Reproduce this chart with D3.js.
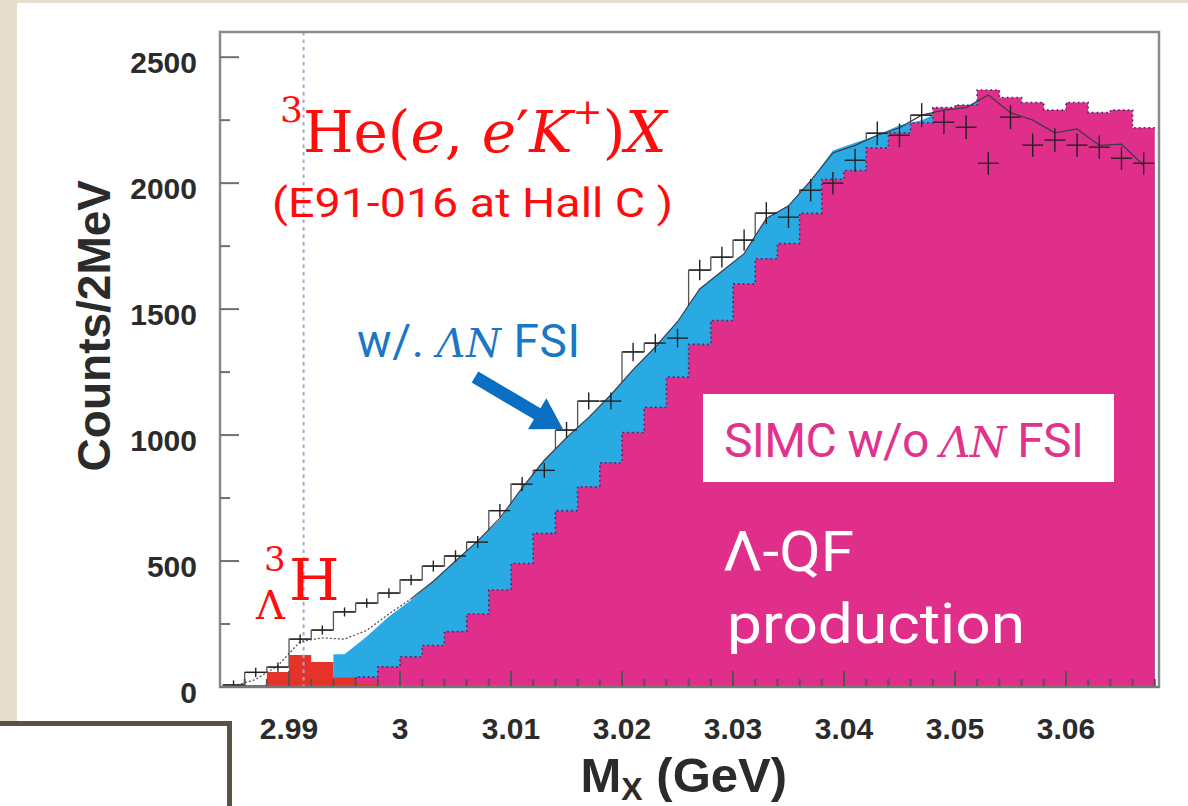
<!DOCTYPE html>
<html><head><meta charset="utf-8">
<script src="https://cdn.jsdelivr.net/npm/d3@7/dist/d3.min.js"></script>
<style>
html,body{margin:0;padding:0;background:#e3dac8;}
svg{display:block;}
</style>
</head><body>
<svg id="chart" width="1188" height="806"></svg>
<script>
// ---------------- DATA (Counts per 2 MeV bin, bin centres in GeV) ----------------
const binCenters = [2.985,2.987,2.989,2.991,2.993,2.995,2.997,2.999,3.001,3.003,3.005,3.007,3.009,3.011,3.013,3.015,3.017,3.019,3.021,3.023,3.025,3.027,3.029,3.031,3.033,3.035,3.037,3.039,3.041,3.043,3.045,3.047,3.049,3.051,3.053,3.055,3.057,3.059,3.061,3.063,3.065,3.067];
// experimental data (crosses + open histogram)
const dataCounts = [8,58,79,190,226,298,333,373,425,480,520,575,700,805,860,1020,1135,1135,1330,1365,1385,1655,1706,1774,1881,1865,1972,2000,2091,2198,2190,2270,2242,2222,2079,2262,2151,2171,2151,2143,2099,2079];
// SIMC Lambda quasi-free w/o Lambda-N FSI (magenta)
const qfNoFsi = [0,0,0,3,6,12,40,80,120,165,220,290,385,490,610,700,795,890,1010,1110,1230,1360,1455,1600,1700,1760,1880,2015,2050,2140,2200,2240,2300,2310,2370,2340,2320,2290,2320,2280,2290,2220];
// SIMC Lambda quasi-free with Lambda-N FSI (cyan)
const qfWithFsi = [0,0,0,0,0,130,200,280,345,420,500,580,665,790,900,990,1070,1160,1260,1350,1450,1580,1650,1720,1860,1910,2010,2130,2160,2190,2230,2250,2290,2300,2350,2280,2250,2200,2215,2150,2155,2070];
// hypertriton peak (red)
const hypertriton = [0,8,60,127,99,38,12,4,0,0,0,0,0,0,0,0,0,0,0,0,0,0,0,0,0,0,0,0,0,0,0,0,0,0,0,0,0,0,0,0,0,0];
// total simulation curve (hypertriton + QF with FSI)
const simTotal = [3,30,85,180,195,190,225,290,350,420,500,580,670,790,900,990,1070,1160,1260,1350,1450,1580,1650,1720,1860,1910,2010,2120,2150,2190,2220,2270,2290,2300,2350,2280,2250,2200,2215,2150,2155,2070];
const xMajorTicks = [2.99,3.00,3.01,3.02,3.03,3.04,3.05,3.06];
const xTickLabels = ["2.99","3","3.01","3.02","3.03","3.04","3.05","3.06"];
const yMajorTicks = [0,500,1000,1500,2000,2500];
const hypertritonMass = 2.99131;
const binWidth = 0.002;

// ---------------- LAYOUT ----------------
const svg = d3.select("#chart");
const W = 1188, H = 806;
const plot = {left:220, right:1159, top:32, bottom:687};
const x = d3.scaleLinear().domain([2.98378, 3.06838]).range([plot.left, plot.right]);
const y = d3.scaleLinear().domain([0, 2600]).range([plot.bottom, plot.top]);

const defs = svg.append("defs");
// paper texture for the slide background
const tex = defs.append("filter").attr("id","paper").attr("x",0).attr("y",0).attr("width","100%").attr("height","100%");
tex.append("feTurbulence").attr("type","fractalNoise").attr("baseFrequency",0.55).attr("numOctaves",2).attr("seed",3).attr("result","n");
tex.append("feColorMatrix").attr("in","n").attr("type","matrix")
  .attr("values","0 0 0 0 0.78  0 0 0 0 0.74  0 0 0 0 0.66  0 0 0 -1.6 1.05");
svg.append("rect").attr("width",W).attr("height",H).attr("fill","#e6ddcc");
svg.append("rect").attr("width",W).attr("height",H).attr("filter","url(#paper)").attr("opacity",0.55);
svg.append("rect").attr("x",17).attr("y",3).attr("width",W-17).attr("height",H-3).attr("fill","#ffffff");

defs.append("clipPath").attr("id","plotclip").append("rect")
  .attr("x",plot.left).attr("y",plot.top).attr("width",plot.right-plot.left).attr("height",plot.bottom-plot.top);

const g = svg.append("g").attr("clip-path","url(#plotclip)");

function stepPoints(vals){
  const pts = [];
  binCenters.forEach((c,i)=>{
    pts.push([c-binWidth/2, vals[i]]);
    pts.push([c+binWidth/2, vals[i]]);
  });
  return pts;
}
const stepArea = d3.area().x(d=>x(d[0])).y0(y(0)).y1(d=>y(d[1]));
const stepLine = d3.line().x(d=>x(d[0])).y(d=>y(d[1]));

// open histogram of the data
g.append("path").attr("d", stepLine(stepPoints(dataCounts)))
  .attr("fill","none").attr("stroke","#555").attr("stroke-width",1.3);

// cyan: QF with FSI (smooth through bin centres)
const fsiStart = binCenters.findIndex((c,i)=>qfWithFsi[i]>0);
const fsiPts = [[binCenters[fsiStart]-binWidth/2, qfWithFsi[fsiStart]]]
  .concat(binCenters.slice(fsiStart).map((c,i)=>[c, qfWithFsi[fsiStart+i]]))
  .concat([[binCenters[binCenters.length-1]+binWidth/2, qfWithFsi[qfWithFsi.length-1]]]);
g.append("path").attr("d", stepArea(fsiPts)).attr("fill","#2aaae2");
// magenta: QF w/o FSI
g.append("path").attr("d", stepArea(stepPoints(qfNoFsi))).attr("fill","#e02f8b");
// red: hypertriton
g.append("path").attr("d", stepArea(stepPoints(hypertriton))).attr("fill","#e5332a");

// dotted outline of magenta histogram
g.append("path").attr("d", stepLine(stepPoints(qfNoFsi).filter(d=>d[0]>2.995)))
  .attr("fill","none").attr("stroke","#3d2a66").attr("stroke-width",1.6).attr("stroke-dasharray","1.6,3.2");

// hypertriton mass line
g.append("line").attr("x1",x(hypertritonMass)).attr("x2",x(hypertritonMass))
  .attr("y1",plot.top).attr("y2",plot.bottom)
  .attr("stroke","#a4a7d6").attr("stroke-width",2).attr("stroke-dasharray","3.5,4");

// simulation total curve
const simPts = binCenters.map((c,i)=>[c, simTotal[i]]);
const lin = d3.line().x(d=>x(d[0])).y(d=>y(d[1]));
g.append("path").attr("d", lin(simPts.filter(d=>d[0]<=3.0015)))
  .attr("fill","none").attr("stroke","#555").attr("stroke-width",1.3).attr("stroke-dasharray","2,2");
g.append("path").attr("d", lin(simPts.filter(d=>d[0]>=3.0005)))
  .attr("fill","none").attr("stroke","#3a3a4a").attr("stroke-width",1.2);

// data crosses with statistical error bars
const cross = g.append("g").attr("stroke","#222").attr("stroke-width",1.4);
binCenters.forEach((c,i)=>{
  const v = dataCounts[i], e = Math.max(Math.sqrt(v),18);
  cross.append("line").attr("x1",x(c-binWidth*0.47)).attr("x2",x(c+binWidth*0.47)).attr("y1",y(v)).attr("y2",y(v));
  cross.append("line").attr("x1",x(c)).attr("x2",x(c)).attr("y1",y(v-e)).attr("y2",y(v+e));
});

// ---------------- AXES / FRAME ----------------
const axisCol = "#6f6f6f";
svg.append("rect").attr("x",plot.left).attr("y",plot.top).attr("width",plot.right-plot.left).attr("height",plot.bottom-plot.top)
  .attr("fill","none").attr("stroke","#8a8a8a").attr("stroke-width",2.5);

const yMinor = d3.range(0, 2600, 250);
const yAx = svg.append("g");
yMinor.forEach(v=>{
  const major = yMajorTicks.includes(v);
  yAx.append("line").attr("x1",plot.left).attr("x2",plot.left+(major?19:10))
    .attr("y1",y(v)).attr("y2",y(v)).attr("stroke",axisCol).attr("stroke-width",2);
});
yMajorTicks.forEach(v=>{
  yAx.append("text").attr("x",197).attr("y",y(v)+16).attr("text-anchor","end")
    .attr("font-family","Liberation Sans, Arial, sans-serif").attr("font-weight","bold").attr("font-size",30)
    .attr("fill","#2b2b2b").text(v);
});
const xMinor = d3.range(2.986, 3.0681, 0.002);
const xAx = svg.append("g");
xMinor.forEach(v=>{
  const major = xMajorTicks.some(t=>Math.abs(t-v)<1e-6);
  xAx.append("line").attr("x1",x(v)).attr("x2",x(v))
    .attr("y1",plot.bottom).attr("y2",plot.bottom-(major?16:8)).attr("stroke","#555").attr("stroke-width",2);
});
xMajorTicks.forEach((v,i)=>{
  xAx.append("text").attr("x",x(v)).attr("y",739).attr("text-anchor","middle")
    .attr("font-family","Liberation Sans, Arial, sans-serif").attr("font-weight","bold").attr("font-size",30)
    .attr("fill","#2b2b2b").text(xTickLabels[i]);
});
svg.append("line").attr("x1",plot.left).attr("x2",plot.right).attr("y1",plot.bottom).attr("y2",plot.bottom)
  .attr("stroke","#777").attr("stroke-width",2);

// axis titles
const xt = svg.append("text").attr("x",787).attr("y",792).attr("text-anchor","end")
  .attr("font-family","Liberation Sans, Arial, sans-serif").attr("font-weight","bold").attr("font-size",49).attr("fill","#2b2b2b");
xt.append("tspan").text("M");
xt.append("tspan").attr("font-size",32).attr("dy",8).text("X");
xt.append("tspan").attr("dy",-8).text(" (GeV)");

svg.append("text").attr("transform","translate(110,180) rotate(-90)").attr("text-anchor","end")
  .attr("font-family","Liberation Sans, Arial, sans-serif").attr("font-weight","bold").attr("font-size",46)
  .attr("fill","#2b2b2b").text("Counts/2MeV");

// ---------------- ANNOTATIONS ----------------
const serif = "DejaVu Serif, Liberation Serif, serif";
const sans = "Roboto, 'Open Sans', sans-serif";
const red = "#ff0d0d";
const rx = svg.append("text").attr("x",280).attr("y",152).attr("font-family",serif).attr("font-size",58).attr("fill",red);
rx.append("tspan").attr("font-size",36).attr("dy",-30).text("3");
rx.append("tspan").attr("dy",30).text("He(");
rx.append("tspan").attr("font-style","italic").text("e");
rx.append("tspan").text(", ");
rx.append("tspan").attr("font-style","italic").text("e");
rx.append("tspan").text("′");
rx.append("tspan").attr("font-style","italic").text("K");
rx.append("tspan").attr("font-size",36).attr("dy",-28).text("+");
rx.append("tspan").attr("dy",28).text(")");
rx.append("tspan").attr("font-style","italic").text("X");

svg.append("text").attr("x",272).attr("y",217).attr("font-family",sans).attr("font-size",40).attr("fill",red)
  .attr("textLength",401).attr("lengthAdjust","spacingAndGlyphs").text("(E91-016 at Hall C )");

// hypertriton label
const ht = svg.append("text").attr("font-family",serif).attr("fill",red);
ht.append("tspan").attr("x",264).attr("y",571).attr("font-size",34).text("3");
ht.append("tspan").attr("x",256).attr("y",619).attr("font-size",40).text("Λ");
ht.append("tspan").attr("x",289).attr("y",600).attr("font-size",58).text("H");

// w/ FSI label + arrow
const blue = "#1c76c6";
const wt = svg.append("text").attr("x",357).attr("y",357).attr("font-size",46).attr("fill",blue).attr("font-family",sans)
  .attr("textLength",223).attr("lengthAdjust","spacing");
wt.append("tspan").text("w/. ");
wt.append("tspan").attr("font-family",serif).attr("font-style","italic").attr("font-size",40).text("ΛN");
wt.append("tspan").text(" FSI");

(function(){
  const tail=[475,377], tip=[563,429];
  const dx=tip[0]-tail[0], dy=tip[1]-tail[1], L=Math.hypot(dx,dy);
  const u=[dx/L,dy/L], p=[-u[1],u[0]];
  const hb=[tip[0]-30*u[0], tip[1]-30*u[1]];
  const sw=6.5, hw=18;
  const pts=[[tail[0]+sw*p[0],tail[1]+sw*p[1]],[hb[0]+sw*p[0],hb[1]+sw*p[1]],[hb[0]+hw*p[0],hb[1]+hw*p[1]],tip,
    [hb[0]-hw*p[0],hb[1]-hw*p[1]],[hb[0]-sw*p[0],hb[1]-sw*p[1]],[tail[0]-sw*p[0],tail[1]-sw*p[1]]];
  svg.append("polygon").attr("points",pts.map(q=>q.join(",")).join(" ")).attr("fill","#0a6fc2");
})();

// SIMC box
svg.append("rect").attr("x",703).attr("y",394).attr("width",411).attr("height",88).attr("fill","#ffffff");
const st = svg.append("text").attr("x",724).attr("y",457).attr("font-size",48).attr("fill","#e0338c").attr("font-family",sans)
  .attr("textLength",360).attr("lengthAdjust","spacing");
st.append("tspan").text("SIMC w/o ");
st.append("tspan").attr("font-family",serif).attr("font-style","italic").attr("font-size",42).text("ΛN");
st.append("tspan").text(" FSI");

// Lambda-QF production
svg.append("text").attr("x",723).attr("y",571).attr("font-size",56).attr("fill","#ffffff").attr("font-family",sans)
  .attr("textLength",131).attr("lengthAdjust","spacingAndGlyphs").text("Λ-QF");
svg.append("text").attr("x",727).attr("y",643).attr("font-size",56).attr("fill","#ffffff").attr("font-family",sans)
  .attr("textLength",298).attr("lengthAdjust","spacingAndGlyphs").text("production");

// bottom-left box from the slide
svg.append("rect").attr("x",-10).attr("y",723.5).attr("width",239.5).attr("height",100)
  .attr("fill","#ffffff").attr("stroke","#5a5246").attr("stroke-width",5);
</script>
</body></html>
